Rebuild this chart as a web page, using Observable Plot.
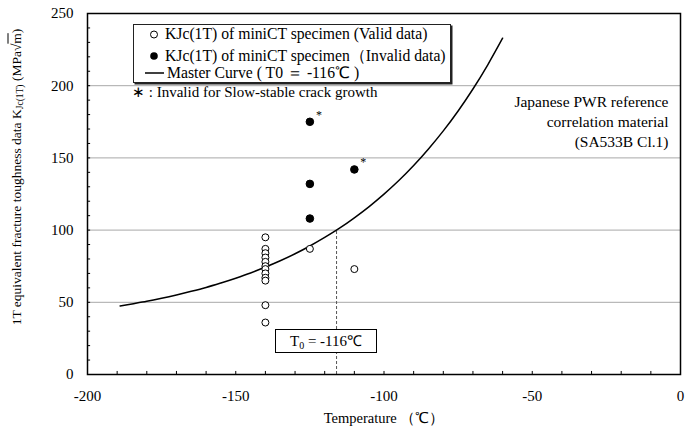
<!DOCTYPE html>
<html><head><meta charset="utf-8">
<script src="https://cdn.jsdelivr.net/npm/d3@7"></script>
<script src="https://cdn.jsdelivr.net/npm/@observablehq/plot@0.6"></script>
<style>
body{margin:0;background:#fff;}
#wrap{position:relative;width:693px;height:431px;font-family:"Liberation Serif","Times New Roman",serif;color:#000;}
#wrap svg{position:absolute;left:0;top:0;}
#wrap svg text{font-family:"Liberation Serif","Times New Roman",serif !important;font-variant-numeric:normal !important;}
.ov{position:absolute;white-space:nowrap;line-height:18px;font-size:14px;}
.lg{line-height:16px !important;font-size:15.7px !important;}
</style>
</head><body>
<div id="wrap"></div>
<script>
// ---- data ----
const validT = [-140,-140,-140,-140,-140,-140,-140,-140,-140,-140,-140,-140,-125,-110];
const validK = [95,87,84,81,78,75,73,70,67,65,48,36,87,73];
const invalidT = [-125,-125,-125,-110];
const invalidK = [175,132,108,142];
const ssgT = [-125,-110];           // invalid for slow-stable crack growth
const ssgK = [175,142];
const curveT = [-189,-185,-180,-175,-170,-165,-160,-155,-150,-145,-140,-135,-130,-125,-120,-115,-110,-105,-100,-95,-90,-85,-80,-75,-70,-65,-60];
const curveK = [47.5,48.9,50.7,52.8,55.1,57.6,60.3,63.4,66.7,70.3,74.4,78.8,83.6,89.0,94.9,101.3,108.5,116.3,124.9,134.3,144.7,156.2,168.7,182.5,197.7,214.5,232.9];
const T0 = -116;
const K0 = 100;
const xTickLabels = [-200,-150,-100,-50,0];
const yTickLabels = [0,50,100,150,200,250];
const xMinor = d3.range(-200, 0.1, 10);
const yMinor = d3.range(0, 250.1, 10);
const gridY = [50,100,150,200];

const valid = validT.map((t,i)=>({t,k:validK[i]}));
const invalid = invalidT.map((t,i)=>({t,k:invalidK[i]}));
const ssg = ssgT.map((t,i)=>({t,k:ssgK[i]}));
const curve = curveT.map((t,i)=>({t,k:curveK[i]}));
const serif = "Liberation Serif";

const chart = Plot.plot({
  width: 693, height: 431,
  marginLeft: 87, marginRight: 13, marginTop: 13, marginBottom: 57,
  x: {domain: [-200, 0]},
  y: {domain: [0, 250]},
  style: {fontFamily: serif, fontSize: "15px", color: "#000", background: "transparent"},
  marks: [
    Plot.ruleY(gridY, {stroke: "#a8a8a8", strokeWidth: 1}),
    Plot.ruleX(xMinor, {x: d=>d, y1: 0, y2: 2.1, stroke: "#000"}),
    Plot.ruleY(yMinor, {y: d=>d, x1: -200, x2: -198.95, stroke: "#000"}),
    Plot.axisX(xTickLabels, {tickSize: 0, tickPadding: 16, label: null, fontSize: 15, fontFamily: serif, fontVariant: "normal", tickFormat: d => String(d)}),
    Plot.axisY(yTickLabels, {tickSize: 0, tickPadding: 14, label: null, fontSize: 15, fontFamily: serif, fontVariant: "normal", tickFormat: d => String(d)}),
    Plot.ruleX([T0], {y1: 0, y2: K0, stroke: "#555", strokeDasharray: "3,2", strokeWidth: 1}),
    Plot.line(curve, {x: "t", y: "k", curve: "catmull-rom", stroke: "#000", strokeWidth: 1.5}),
    Plot.dot(valid, {x: "t", y: "k", r: 3.5, stroke: "#000", fill: "#fff", strokeWidth: 1}),
    Plot.dot(invalid, {x: "t", y: "k", r: 3.8, stroke: "#000", fill: "#000", strokeWidth: 1}),
    Plot.text(ssg, {x: "t", y: "k", text: () => "*", dx: 9, dy: -7, fontSize: 12}),
    Plot.text(["Japanese PWR reference\ncorrelation material\n(SA533B Cl.1)"], {frameAnchor: "top-right", dx: -12, dy: 79, textAnchor: "end", lineAnchor: "top", lineHeight: 1.3, fontSize: 15.5}),
    Plot.frame({stroke: "#000", strokeWidth: 1.5})
  ]
});
const wrap = document.getElementById("wrap");
wrap.appendChild(chart);

function ov(html, style){
  const d = document.createElement("div");
  d.className = "ov";
  d.innerHTML = html;
  Object.assign(d.style, style);
  wrap.appendChild(d);
  return d;
}
// legend box
ov(`<svg width="20" height="60" style="position:absolute;left:10px;top:0">
  <circle cx="10" cy="9.5" r="3.5" fill="#fff" stroke="#000"/>
  <circle cx="10" cy="31" r="3.8" fill="#000"/>
  <line x1="1" x2="20" y1="48" y2="48" stroke="#000" stroke-width="1.5"/></svg>
  <div class="ov lg" style="left:31px;top:1px">KJc(1T) of miniCT specimen (Valid data)</div>
  <div class="ov lg" style="left:31px;top:22.5px">KJc(1T) of miniCT specimen（Invalid data)</div>
  <div class="ov lg" style="left:33px;top:39.5px">Master Curve ( T0 ＝ -116℃ )</div>`,
  {left:"133px", top:"24px", width:"316px", height:"57px", border:"1px solid #222", boxShadow:"1.5px 1.5px 0 #222", background:"#fff"});
ov("∗ : Invalid for Slow-stable crack growth", {left:"132px", top:"83px", fontSize:"15px"});
// T0 box
ov("T<sub style='font-size:10px;vertical-align:-3px'>0</sub> = -116℃", {left:"275px", top:"329px", width:"100px", height:"22px", border:"1px solid #000", background:"#fff", textAlign:"center", lineHeight:"22px", fontSize:"15px"});
// axis titles
ov("Temperature （℃）", {left:"384px", top:"409px", transform:"translateX(-50%)", fontSize:"14.5px"});
ov("1T equivalent fracture toughness data K<sub style='font-size:9.5px;vertical-align:-2px'>Jc(1T)</sub> (MPa√<span style='text-decoration:overline'>m</span>)", {left:"18px", top:"177px", transform:"translate(-50%,-50%) rotate(-90deg)", fontSize:"13.5px"});
</script>
</body></html>
